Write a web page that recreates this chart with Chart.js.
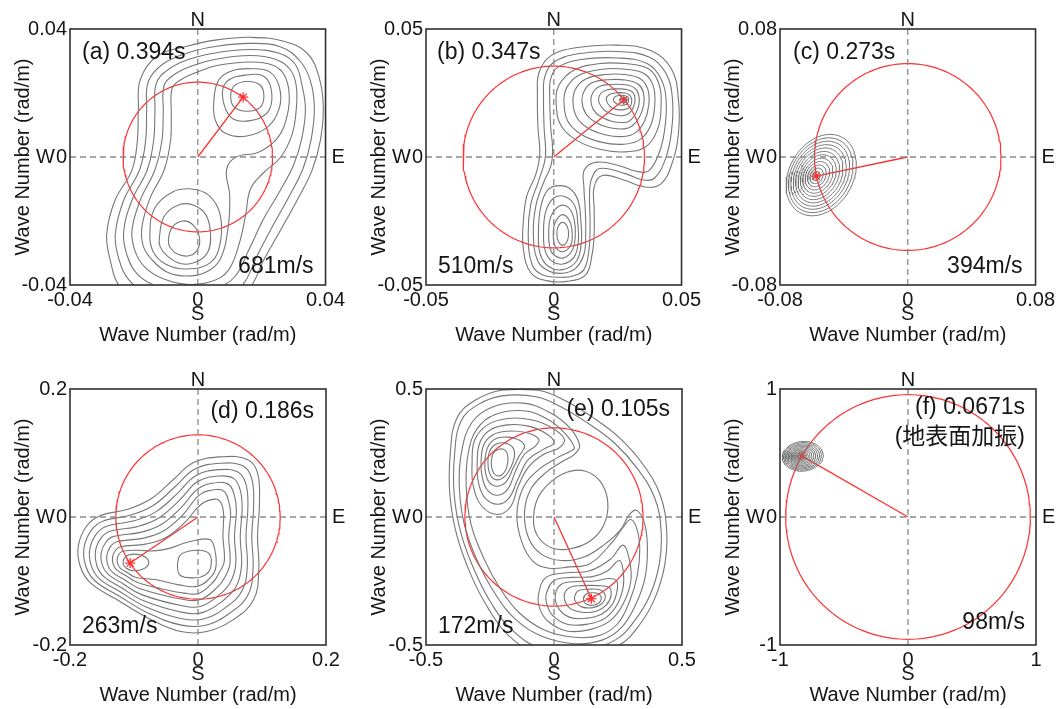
<!DOCTYPE html>
<html><head><meta charset="utf-8">
<script src="https://cdn.jsdelivr.net/npm/chart.js@4.4.1/dist/chart.umd.min.js"></script>
<style>
html,body{margin:0;padding:0;background:#fff;overflow:hidden;width:1060px;height:709px;position:relative;}
canvas{position:absolute;}
</style></head><body>
<script>
// ---------------- DATA ----------------
const panelLetters = ['a','b','c','d','e','f'];
const periodLabels = ['0.394s','0.347s','0.273s','0.186s','0.105s','0.0671s'];
const velocityLabels = ['681m/s','510m/s','394m/s','263m/s','172m/s','98m/s'];
const extraLabelF = '(地表面加振)';
const axisLimits = [0.04, 0.05, 0.08, 0.2, 0.5, 1];
const tickValues = [[-0.04,0,0.04],[-0.05,0,0.05],[-0.08,0,0.08],[-0.2,0,0.2],[-0.5,0,0.5],[-1,0,1]];
const tickLabels = [['-0.04','0','0.04'],['-0.05','0','0.05'],['-0.08','0','0.08'],['-0.2','0','0.2'],['-0.5','0','0.5'],['-1','0','1']];
const circleRadii = [0.0234, 0.0355, 0.0584, 0.1284, 0.348, 0.9555];   // rad/m
const peakKx = [0.0142, 0.0274, -0.0574, -0.106, 0.146, -0.83];
const peakKy = [0.0187, 0.0224, -0.0119, -0.072, -0.319, 0.478];
// contour units: a,b,c in 1e-3 rad/m ; d,e,f in 1e-2 rad/m
const contourUnits = [0.001, 0.001, 0.001, 0.01, 0.01, 0.01];

const contoursA = [
 [[-18.6,14.8],[-18,24.2],[-12.8,31.5],[-3.4,34.6],[6,36.6],[16.5,37.4],[26.9,36.2],[34.2,32.5],[37.9,25.2],[39.3,15.8],[38.4,5.3],[35.8,-4.1],[31.1,-13.5],[25.9,-22.9],[20.6,-32.3],[16.5,-40.7],[11.2,-44.9],[-3.4,-47],[-18,-44.9],[-24.3,-40.7],[-27.4,-32.3],[-28.5,-24],[-25.9,-13.5],[-20.6,-4.1],[-18.9,5.3]],
 [[-16,14.5],[-15.5,23.5],[-11,29],[-3,32.6],[6,34.6],[16.5,35.5],[26,34.4],[32,30],[35.2,24],[36.5,15.5],[35.5,5.5],[33,-3.5],[28.5,-12.5],[23.5,-21.5],[18.5,-31],[14,-40],[8,-43],[-3.5,-44.5],[-15.5,-42.5],[-21.5,-38.5],[-24.8,-31.5],[-25.8,-24],[-23.2,-13.5],[-18.2,-4],[-16.3,5.3]],
 [[-13.4,14.3],[-13,23],[-9,27.5],[-2.5,30.6],[6,32.6],[16.5,33.6],[25.5,32.4],[30.5,29],[32.6,22.5],[33.7,15],[32.6,6],[30,-2.5],[25.5,-11],[20.5,-19.5],[16,-29],[11.5,-37.5],[5.5,-41],[-3.5,-42],[-13,-40.3],[-19,-36.5],[-22.2,-30.5],[-23.2,-23.5],[-20.6,-13.5],[-15.8,-4],[-13.8,5.3]],
 [[-10.8,14],[-10.5,22.5],[-7,26],[-1.5,28.6],[6,30.6],[16.5,31.7],[24.5,30.5],[28.8,27.5],[30.8,22.5],[30.8,14.5],[29.5,7],[26,0],[20.5,-5],[16.5,-10],[15,-18],[13,-27],[9.5,-35.5],[4,-39],[-3.5,-39.8],[-11,-38],[-16.5,-34.5],[-19.6,-29.5],[-20.6,-23],[-18,-13.5],[-13.4,-4],[-11.2,5.3]],
 [[-8.3,13.5],[-8,21.5],[-5,24.3],[0,26.6],[6,28.6],[16.5,29.7],[23.5,28.7],[27,25.8],[28.6,20],[28,13],[25,6],[19,1.5],[12,0],[9,-4],[10,-12],[9.5,-22],[7,-32],[2.5,-36],[-3.5,-37.2],[-9.5,-36],[-14,-32.5],[-17,-28],[-17.5,-22],[-15,-13],[-10.5,-4],[-8.5,5.3]],
 [[5,17],[6.5,24],[11,27],[16.5,27.6],[22.5,26.6],[25.5,22],[25.6,15.5],[22,9.5],[15,6.5],[8.5,7.5],[5.5,11.5]],
 [[7.8,18.5],[9,23.5],[15,25.6],[21,25],[23.2,19.5],[21.7,13.8],[16,11.3],[10.5,12.3]],
 [[10.3,19],[11.5,22.3],[15.5,23.6],[19.5,22.5],[20.7,19],[19.5,15.5],[15.5,14.3],[11.5,15.5]],
 [[-15,-24],[-13.5,-16],[-8,-11],[-2,-10],[3.5,-12],[7,-18],[7,-27],[4,-33],[-3.5,-35],[-10,-33.5],[-14,-29.5]],
 [[-12,-25],[-10.5,-18.5],[-6,-15],[-1.5,-15],[2.5,-18],[4,-24],[3,-30],[-1,-33],[-5.5,-33.3],[-9.5,-31],[-11.8,-28]],
 [[-9.2,-26],[-8,-22],[-4.8,-20],[-1.5,-21.2],[0.5,-25],[0,-28.8],[-2.5,-30.8],[-6,-30.5],[-8.5,-28.5]]
];

const contoursB = [
 [[-6.2,11.9],[-6.4,23.8],[-5.8,32.9],[-1.2,39.5],[9.3,42.8],[25.1,43.7],[38.2,41.5],[46.1,34.3],[48.8,22.4],[48.8,9.3],[46.7,-1.2],[42.1,-10.4],[35.6,-11.7],[27.7,-9.1],[19,-7.2],[15.8,-11.7],[15.8,-20],[15.8,-30],[15,-38],[12.5,-46],[5,-48.6],[-3,-48.3],[-9,-45.2],[-11.9,-36],[-11.9,-25],[-10.5,-15],[-7.1,-7],[-5.5,1]],
 [[-3.8,11.8],[-4,23.5],[-3.5,31.5],[0,37],[9.5,40.3],[25,41.2],[37.5,39],[44,32.5],[46.5,22],[46,9.5],[43.8,-0.5],[39.5,-8.2],[35,-9],[28,-6.5],[18,-4.5],[14.8,-8.5],[14,-15],[14.2,-25],[13.8,-36],[11.8,-44],[7.5,-46.5],[2.8,-47],[-4.5,-46],[-8.5,-42],[-10,-30],[-9,-18.5],[-6,-9.5],[-3.3,0]],
 [[-1.2,11.5],[-1.6,23.5],[-1.2,30.5],[1.5,35],[10,38],[25,38.7],[36.5,36.5],[42,30.5],[44,21.5],[43.3,10],[41,1],[37,-5.5],[32,-5.5],[26,-3.5],[17,-2],[12,-5],[11.8,-12],[12.3,-20],[12.5,-30],[11.8,-38],[8.5,-43.5],[3.5,-45.4],[-2,-44.5],[-6.3,-40.5],[-8,-30],[-7,-19],[-4,-10],[-1,-3],[-0.5,4]],
 [[1,20],[2,28],[8,34],[18,36.5],[28,36.5],[37,34.5],[41,29],[42,20],[40.5,10.5],[36,4],[28,2],[18,3],[9,6.5],[3,12]],
 [[4,21],[5,27],[10,32],[19,34.3],[28,34.3],[35.5,32.5],[39,27.5],[39.5,20],[38,12.5],[34,7],[27.5,5],[18.5,5.8],[10.5,9],[5.5,14]],
 [[7.5,21.5],[8.5,26.5],[12.5,30.5],[20,32.2],[28,32.2],[34,30.5],[36.8,26.5],[37.2,20.5],[35.5,14],[32,9.5],[27.5,8],[20,8.7],[13,11.5],[9,15.5]],
 [[11,22],[12,26],[15,29],[21,30.2],[28,30.1],[32.8,28.6],[35,25.5],[35.2,20.5],[33.5,15.5],[30.5,12],[27.5,11],[21.5,11.5],[16,13.8],[12.5,17]],
 [[14.5,22.2],[15.5,25.5],[18,27.6],[22,28.3],[28,28.2],[31.8,26.8],[33.3,24],[33.3,20.3],[31.8,16.5],[29.5,14],[27,13.5],[22.5,14],[18,16],[15.5,18.5]],
 [[17.5,22.4],[18.5,25],[21,26.3],[25,26.6],[28.5,26.4],[31,25.2],[31.8,22.8],[31.3,19.8],[29.8,17.3],[27.5,16.2],[24,16.4],[20.5,17.8],[18.5,19.8]],
 [[20.5,22.5],[21.5,24.2],[24,25],[28,25],[30,23.8],[30.5,21.5],[29.6,19.4],[27.5,18.5],[24.5,18.6],[22,19.8]],
 [[23.3,22.5],[24.3,23.7],[26.5,24.1],[28.8,23.6],[29.3,22],[28.5,20.6],[26.5,20.2],[24.4,20.9]],
 [[25.8,22.4],[26.8,23.2],[28.2,23],[28.5,22],[27.8,21.3],[26.5,21.3]],
 [[-6,-30],[-5.2,-20],[-2.5,-13],[2,-11.2],[6.5,-12.5],[9.5,-17],[10.6,-25],[10.8,-33],[9,-40.5],[3.5,-44],[-2,-42.8],[-5.3,-38]],
 [[-4,-30],[-3.2,-21.5],[0,-16],[4.5,-15.5],[8.2,-19],[9.4,-26],[9.6,-33],[8,-39],[3.5,-41.8],[-1,-40.5],[-3.4,-36.5]],
 [[-2,-30],[-1.2,-23.5],[2,-19.2],[5.8,-19.8],[8,-24.5],[8.4,-31],[7.2,-36.5],[3.5,-39.5],[-0.2,-38],[-1.6,-35]],
 [[-0.2,-30],[0.6,-25.5],[3.4,-22.5],[6.2,-25],[7.2,-30],[6.6,-34.5],[3.5,-37],[0.6,-35]],
 [[1.2,-30],[1.8,-27],[3.5,-25.5],[5.2,-27],[5.8,-30],[5.2,-33],[3.5,-34.5],[1.8,-33]]
];

// elliptic rings for (c): [centre kx, centre ky, semi-major, semi-minor] in 1e-3 rad/m, tilt in degrees
const ringsC = [[-54.2,-11.3,27,20],[-54.5,-11.4,24.8,18.4],[-54.8,-11.4,22.6,16.7],[-55.1,-11.5,20.4,15.1],[-55.4,-11.5,18.2,13.5],[-55.7,-11.6,16,11.8],[-56,-11.6,13.8,10.2],[-56.3,-11.7,11.6,8.6],[-56.6,-11.7,9.4,7],[-56.9,-11.8,7.2,5.3],[-57.1,-11.8,5.1,3.8],[-57.3,-11.9,3,2.2]];
const ringTiltC = 60;

const contoursD = [
 [[-15.3,0.2],[-11,1.2],[-7.4,2.8],[-3.8,5.9],[-0.7,8.5],[3.5,9.4],[7.7,9.0],[9.3,6.9],[9.6,2.2],[9.3,-3],[9.5,-8.2],[8.7,-12.9],[5.6,-16],[1.4,-17.9],[-2.7,-17.9],[-7.4,-16],[-12.7,-12.9],[-16.8,-10.3],[-18.4,-7.7],[-18.7,-4.5],[-17.4,-1.4]],
 [[-14.78,-0.61],[-10.5,0.3],[-7,1.8],[-3.5,4.8],[-0.5,7.5],[3.5,8.4],[7,8],[8.4,6],[8.7,2],[8.4,-3],[8.6,-8],[7.8,-12.2],[5,-15],[1.2,-16.9],[-2.6,-16.9],[-7.75,-15.03],[-12.47,-12.27],[-16.12,-9.96],[-17.54,-7.65],[-17.81,-4.8],[-16.65,-2.04]],
 [[-14.27,-1.43],[-10,-0.6],[-6.6,0.8],[-3.2,3.7],[-0.3,6.5],[3.4,7.4],[6.3,7],[7.5,5.1],[7.8,1.7],[7.5,-3],[7.7,-7.8],[6.9,-11.5],[4.5,-14],[1,-15.9],[-2.5,-15.9],[-8.1,-14.06],[-12.24,-11.65],[-15.44,-9.62],[-16.68,-7.59],[-16.92,-5.09],[-15.9,-2.68]],
 [[-13.75,-2.24],[-9.5,-1.5],[-6.2,-0.2],[-2.9,2.6],[-0.1,5.5],[3.3,6.4],[5.6,6],[6.6,4.2],[6.9,1.4],[6.6,-3],[6.8,-7.6],[6,-10.8],[4,-13],[0.8,-14.9],[-2.4,-14.9],[-8.46,-13.1],[-12.01,-11.02],[-14.75,-9.28],[-15.83,-7.54],[-16.03,-5.39],[-15.16,-3.31]],
 [[-13.23,-3.06],[-9,-2.4],[-5.8,-1.2],[-2.6,1.5],[0.1,4.5],[3.2,5.4],[4.9,5],[5.7,3.3],[6,1],[5.7,-3],[5.9,-7.4],[5.1,-10.1],[3.5,-12],[0.6,-13.9],[-2.3,-13.9],[-8.81,-12.13],[-11.78,-10.39],[-14.07,-8.94],[-14.97,-7.48],[-15.14,-5.69],[-14.41,-3.95]],
 [[-12.72,-3.87],[-8.5,-3.3],[-5.4,-2.2],[-2.3,0.4],[0.3,3.5],[3,4.3],[4.2,3.9],[4.8,2.4],[5.1,0.6],[4.8,-3],[5,-7.2],[4.2,-9.4],[3,-11],[0.4,-12.9],[-2.2,-12.9],[-9.16,-11.16],[-11.55,-9.77],[-13.39,-8.6],[-14.11,-7.43],[-14.25,-5.98],[-13.66,-4.59]],
 [[-12.2,-4.68],[-8,-4.2],[-5,-3.2],[-2,-0.8],[0.5,2],[2.7,2.8],[3.6,2.2],[4,0.5],[3.9,-3],[4.1,-7],[3.3,-8.7],[2.5,-10],[0.2,-11.9],[-2.1,-11.9],[-5.8,-11.2],[-9.51,-10.19],[-11.31,-9.14],[-12.71,-8.25],[-13.25,-7.37],[-13.35,-6.28],[-12.91,-5.23]],
 [[-11.78,-5.35],[-9.5,-5.2],[-7,-5.3],[-4.5,-4.9],[-1.5,-3.9],[1.8,-3.5],[2.6,-5],[2.8,-7.8],[2,-9.4],[0,-10.8],[-3,-10.6],[-6.5,-9.8],[-9.8,-9.4],[-11.13,-8.63],[-12.15,-7.98],[-12.55,-7.33],[-12.63,-6.52],[-12.3,-5.75]],
 [[-11.7,-7.27],[-11.3,-6.2],[-10,-5.8],[-8.3,-6.2],[-7.7,-7.2],[-8.5,-8.1],[-10.1,-8.4],[-11.2,-8]],
 [[-2.6,-5.8],[0,-5.2],[1.8,-5.8],[2,-7.8],[1.2,-9],[-0.5,-9.5],[-2.8,-9.1],[-3.2,-7.4]]
];

const contoursE = [
 [[-40.7,9],[-40.5,25],[-38,38.5],[-31,45.5],[-20.6,49.5],[-6.2,49.5],[4.3,45.5],[15,39],[25.5,31],[34.8,20.5],[41.5,8.5],[44,-5],[43.3,-18.5],[39.5,-31.5],[33.5,-42],[25.5,-50],[12,-54],[-6.5,-53],[-17.5,-46.5],[-25.5,-36],[-32.5,-22.5],[-38,-7]],
 [[-39,9],[-38.8,25],[-36.3,37.5],[-29.8,43.8],[-20.3,47.3],[-7,47],[2.8,43],[13,36.8],[23.5,29],[32.5,19],[39.3,7.5],[41.8,-5],[41.2,-18],[37.5,-30.5],[31.5,-40.5],[24,-48],[11.5,-51.8],[-5.5,-51],[-16,-44.5],[-24,-34.5],[-30.8,-21.5],[-36.3,-6.5]],
 [[-8,-2],[-6.5,7],[-1.5,13.5],[5,17.5],[12,18],[18,14],[21,6],[19.5,-3],[14,-9.5],[6,-12.5],[-1,-12],[-6,-8]],
 [[8,24.5],[10,28],[6,35],[-2,41],[-12,44.5],[-24,43],[-32,37],[-36,26],[-37,12],[-35,-3],[-30,-17],[-23,-30],[-15,-40],[-5,-46.5],[8,-49.5],[19,-48],[26.5,-43],[32,-34],[35.5,-24],[36.5,-13],[35.5,-3],[32.5,2.5],[29.5,1],[26,-5],[20,-10.5],[12,-15.5],[3,-17],[-5,-14.5],[-10,-8],[-11.5,2],[-9,11],[-3,17.5],[3,21.5]],
 [[6,25.5],[8,27],[4,33],[-3,38.5],[-12,41.5],[-23,40],[-30,34.5],[-33.5,25],[-34.3,12],[-32.5,-2.5],[-27.5,-16],[-21,-28],[-13.5,-37.5],[-4,-44],[8,-47],[18,-46.2],[25,-41.5],[29.5,-33],[32.5,-23],[33.5,-13],[32.5,-5],[30,-1],[27,-4],[23,-9.5],[14,-18.3],[6,-19.5],[-2,-20],[-8,-17.5],[-12.5,-10],[-14.5,1],[-12,11.5],[-6,18.5],[1,23]],
 [[-32,21],[-31,30],[-26,36],[-18,38.5],[-9,38],[-1,35],[4,30.5],[2,27],[-4,24.5],[-10,19.5],[-14,12],[-17,4],[-22,1],[-28,4],[-31.5,12]],
 [[-30,21],[-29,29],[-25,34],[-18,36],[-10,35.5],[-3,32.5],[0,29],[-4,26.5],[-10,22.5],[-14,15],[-17.5,7.5],[-22,5],[-27,7.5],[-29.5,13.5]],
 [[-28.5,21],[-27.5,28],[-24,32],[-18.5,33.5],[-11,33],[-6,30.5],[-7,28],[-11.5,24.5],[-15,18],[-18,11],[-22,8.5],[-26,10.5],[-28,15.5]],
 [[-27,21],[-26,27],[-23,30.5],[-18.5,31.2],[-13.5,30],[-11.5,27.5],[-13.5,24],[-16,19],[-18.5,14],[-22,12],[-25.3,13.5],[-26.7,17]],
 [[-25.8,21],[-25,26],[-22.3,28.6],[-18.8,28.8],[-16,27],[-15.5,23.5],[-17,19],[-19.3,15.8],[-22.3,14.5],[-24.8,16.3]],
 [[-24.5,21],[-23.8,24.8],[-21.5,26.5],[-19,26],[-18,23],[-18.6,19],[-20.3,16.5],[-22.5,16.2],[-24,18]],
 [[-6,-30],[-3,-23.5],[5,-21.8],[14,-21],[22,-16.5],[27,-11],[29.5,-17],[30,-25],[27,-34],[22,-40.5],[14,-44],[5,-44.5],[-2,-41],[-5.5,-36]],
 [[-3,-30],[0,-24.8],[7,-23.6],[15,-23.3],[21,-21],[25.5,-17],[27,-21],[27,-27.5],[24.5,-34.5],[20,-39.5],[13.5,-41.8],[5.5,-42],[-0.5,-38.5],[-2.8,-34]],
 [[0.5,-30.5],[3,-26.2],[9,-25.2],[16,-25],[21.5,-24],[24.5,-25],[24.5,-29.5],[22.5,-34.5],[18.5,-38],[13,-39.5],[6.5,-39.3],[2,-36]],
 [[4,-31],[6,-27.6],[11,-26.8],[17,-26.8],[21.5,-27.5],[22.3,-30.5],[20.5,-34.3],[16.5,-36.8],[11,-37.2],[6,-35.5]],
 [[8,-31.5],[9.5,-28.8],[13.5,-28.2],[18,-28.5],[20,-30.5],[19,-33.5],[15.5,-35.3],[11,-35.2],[8.7,-33.5]],
 [[11.5,-32],[12.8,-30],[15.5,-29.6],[18,-30.5],[18.2,-32.8],[16,-34.3],[13,-34.2]]
];

// elliptic rings for (f): [centre kx, centre ky, semi-major, semi-minor] in 1e-2 rad/m
const ringsF = [[-82.2,47.4,16,11.6],[-82.4,47.4,14.7,10.7],[-82.5,47.3,13.4,9.7],[-82.7,47.3,12.1,8.8],[-82.9,47.3,10.8,7.8],[-83,47.2,9.5,6.9],[-83.2,47.2,8.2,5.9],[-83.4,47.2,6.9,5],[-83.5,47.1,5.6,4],[-83.7,47.1,4.3,3.1],[-83.8,47.1,3,2.2],[-84,47.1,1.8,1.3]];
const ringTiltF = 6;

// ---------------- RENDERING ----------------
const FONT = "'Liberation Sans', Arial, 'Noto Sans CJK JP', sans-serif";
const CONTOUR = '#767676', RED = '#ff3030', TXT = '#151515';
Chart.defaults.font.family = FONT;
Chart.defaults.color = TXT;

const boxLeft = [70, 426, 780, 70, 426, 780];
const boxTop = [29, 29, 29, 389, 389, 389];
const CW = 340, CH = 352, YAX = 62, PADT = 30, PADR = 22, XAX = 66, PADB = 0;

const textCfg = [
  [{al:'left', dx:12, top:true, dy:24},{al:'right', dx:12, top:false, dy:18}],
  [{al:'left', dx:11, top:true, dy:24},{al:'left', dx:12, top:false, dy:18}],
  [{al:'left', dx:13, top:true, dy:24},{al:'right', dx:13, top:false, dy:18}],
  [{al:'right', dx:12, top:true, dy:23},{al:'left', dx:12, top:false, dy:18}],
  [{al:'right', dx:12, top:true, dy:21},{al:'left', dx:12, top:false, dy:18}],
  [{al:'right', dx:11, top:true, dy:19},{al:'right', dx:11, top:true, dy:49},{al:'right', dx:11, top:false, dy:22}]
];
textCfg.forEach((arr, i) => {
  arr[0].t = '(' + panelLetters[i] + ') ' + periodLabels[i];
  arr[arr.length-1].t = velocityLabels[i];
  if (arr.length === 3) arr[1].t = extraLabelF;
});

const panelTextPlugin = {
  id: 'panelText',
  afterDraw(chart) {
    const i = chart.$panel;
    const ctx = chart.ctx, ca = chart.chartArea;
    const x0 = chart.scales.x.getPixelForValue(0), y0 = chart.scales.y.getPixelForValue(0);
    ctx.save();
    ctx.strokeStyle = '#303030'; ctx.lineWidth = 1.6;
    ctx.strokeRect(ca.left, ca.top, ca.right - ca.left, ca.bottom - ca.top);
    ctx.fillStyle = TXT; ctx.textBaseline = 'middle';
    ctx.font = '20px ' + FONT;
    ctx.textAlign = 'center';
    ctx.fillText('N', x0, ca.top - 9);
    ctx.fillText('S', x0, ca.bottom + 29);
    ctx.textAlign = 'left';
    ctx.fillText('E', ca.right + 6, y0);
    ctx.textAlign = 'right';
    ctx.fillText('W', ca.left - 15, y0);
    ctx.font = '23px ' + FONT;
    textCfg[i].forEach(l => {
      ctx.textAlign = l.al;
      const x = l.al === 'left' ? ca.left + l.dx : ca.right - l.dx;
      const y = l.top ? ca.top + l.dy : ca.bottom - l.dy;
      ctx.fillText(l.t, x, y);
    });
    ctx.restore();
  }
};

function loopDataset(pts, unit) {
  const n = pts.length;
  const seq = [pts[n-1], ...pts, pts[0], pts[1]].map(p => ({x: p[0]*unit, y: p[1]*unit}));
  const last = n + 1;
  return {
    data: seq, showLine: true, pointRadius: 0, borderColor: CONTOUR, borderWidth: 1.1, tension: 0.4,
    segment: { borderColor: c => (c.p0DataIndex === 0 || c.p0DataIndex === last) ? 'rgba(0,0,0,0)' : undefined }
  };
}
function ellipseDataset(r, tiltDeg, unit) {
  const [cx, cy, a, b] = r, t = tiltDeg * Math.PI / 180, pts = [];
  for (let k = 0; k <= 90; k++) {
    const th = k / 90 * 2 * Math.PI, ex = a * Math.cos(th), ey = b * Math.sin(th);
    pts.push({x: (cx + ex*Math.cos(t) - ey*Math.sin(t)) * unit, y: (cy + ex*Math.sin(t) + ey*Math.cos(t)) * unit});
  }
  return {data: pts, showLine: true, pointRadius: 0, borderColor: CONTOUR, borderWidth: 1, tension: 0};
}
function circleDataset(r) {
  const pts = [];
  for (let k = 0; k <= 180; k++) { const th = k / 180 * 2 * Math.PI; pts.push({x: r*Math.cos(th), y: r*Math.sin(th)}); }
  return {data: pts, showLine: true, pointRadius: 0, borderColor: RED, borderWidth: 1.2, tension: 0};
}

function makePanel(i) {
  const cv = document.createElement('canvas');
  cv.width = CW; cv.height = CH;
  cv.style.left = (boxLeft[i] - YAX) + 'px';
  cv.style.top = (boxTop[i] - PADT) + 'px';
  cv.style.width = CW + 'px'; cv.style.height = CH + 'px';
  document.body.appendChild(cv);
  const L = axisLimits[i], u = contourUnits[i];
  const ds = [];
  ds.push({data: [{x:-L, y:0},{x:L, y:0}], showLine: true, pointRadius: 0, borderColor: '#8a8a8a', borderWidth: 1.3, borderDash: [6,4]});
  ds.push({data: [{x:0, y:-L},{x:0, y:L}], showLine: true, pointRadius: 0, borderColor: '#8a8a8a', borderWidth: 1.3, borderDash: [6,4]});
  if (i === 0) contoursA.forEach(c => ds.push(loopDataset(c, u)));
  if (i === 1) contoursB.forEach(c => ds.push(loopDataset(c, u)));
  if (i === 2) ringsC.forEach(r => ds.push(ellipseDataset(r, ringTiltC, u)));
  if (i === 3) contoursD.forEach(c => ds.push(loopDataset(c, u)));
  if (i === 4) contoursE.forEach(c => ds.push(loopDataset(c, u)));
  if (i === 5) ringsF.forEach(r => ds.push(ellipseDataset(r, ringTiltF, u)));
  ds.push(circleDataset(circleRadii[i]));
  ds.push({data: [{x:0, y:0},{x:peakKx[i], y:peakKy[i]}], showLine: true, pointRadius: 0, borderColor: RED, borderWidth: 1.3});
  ds.push({data: [{x:peakKx[i], y:peakKy[i]}], showLine: false, pointStyle: 'star', pointRadius: 5, borderColor: RED, backgroundColor: RED, borderWidth: 1.3});

  const tickFont = {size: 20, family: FONT};
  new Chart(cv, {
    type: 'scatter',
    data: {datasets: ds},
    options: {
      responsive: false, animation: false, devicePixelRatio: 1, events: [],
      layout: {padding: {left: 0, top: PADT, right: PADR, bottom: PADB}},
      plugins: {legend: {display: false}, tooltip: {enabled: false}},
      scales: {
        x: {
          type: 'linear', position: 'bottom', min: -L, max: L,
          afterBuildTicks: s => { s.ticks = tickValues[i].map(v => ({value: v})); },
          afterFit: s => { s.height = XAX; },
          ticks: {callback: (v, k) => tickLabels[i][k], font: tickFont, color: TXT, padding: 3, maxRotation: 0, autoSkip: false},
          grid: {display: false, drawTicks: false}, border: {display: false},
          title: {display: true, text: 'Wave Number (rad/m)', font: tickFont, color: TXT, padding: {top: 0, bottom: 4}}
        },
        y: {
          type: 'linear', position: 'left', min: -L, max: L,
          afterBuildTicks: s => { s.ticks = tickValues[i].map(v => ({value: v})); },
          afterFit: s => { s.width = YAX; },
          ticks: {callback: (v, k) => tickLabels[i][k], font: tickFont, color: TXT, padding: 3, autoSkip: false},
          grid: {display: false, drawTicks: false}, border: {display: false},
          title: {display: true, text: 'Wave Number (rad/m)', font: tickFont, color: TXT, padding: {top: 3, bottom: 0}}
        }
      }
    },
    plugins: [{id: 'panelIdx', beforeInit(c) { c.$panel = i; }}, panelTextPlugin]
  });
}
for (let i = 0; i < 6; i++) makePanel(i);
</script>
</body></html>
